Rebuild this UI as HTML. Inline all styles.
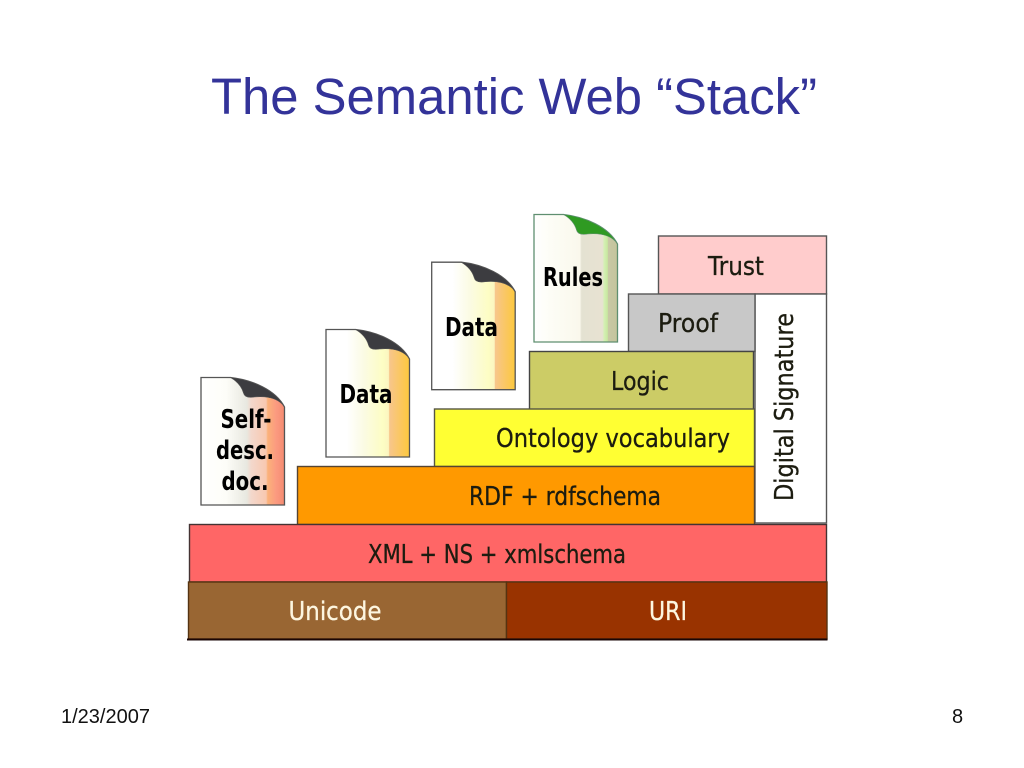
<!DOCTYPE html>
<html><head><meta charset="utf-8">
<style>html,body{margin:0;padding:0;background:#fff;width:1024px;height:768px;overflow:hidden}svg{display:block}</style>
</head><body>
<svg xmlns="http://www.w3.org/2000/svg" width="1024" height="768" viewBox="0 0 1024 768">
<defs>
<linearGradient id="g1" x1="0" x2="1" y1="0" y2="0">
<stop offset="0" stop-color="#fff"/><stop offset=".3" stop-color="#fdfdf8"/><stop offset=".55" stop-color="#e8e8e0"/><stop offset=".6" stop-color="#f3d8cc"/><stop offset=".78" stop-color="#f8c8b0"/><stop offset=".8" stop-color="#fbb27a"/><stop offset=".9" stop-color="#fb9a80"/><stop offset="1" stop-color="#f58a70"/>
</linearGradient>
<linearGradient id="g2" x1="0" x2="1" y1="0" y2="0">
<stop offset="0" stop-color="#fff"/><stop offset=".25" stop-color="#fff"/><stop offset=".45" stop-color="#fbfbe4"/><stop offset=".68" stop-color="#fdfdc4"/><stop offset=".75" stop-color="#fbf5c0"/><stop offset=".76" stop-color="#f7c68c"/><stop offset="1" stop-color="#fdc83c"/>
</linearGradient>
<linearGradient id="g3" x1="0" x2="1" y1="0" y2="0">
<stop offset="0" stop-color="#fff"/><stop offset=".2" stop-color="#fdfdf6"/><stop offset=".55" stop-color="#faf8ec"/><stop offset=".57" stop-color="#e4e2d2"/><stop offset=".82" stop-color="#e8e2d2"/><stop offset=".84" stop-color="#d4f0b4"/><stop offset=".88" stop-color="#c8e8a0"/><stop offset=".89" stop-color="#c8c8a4"/><stop offset="1" stop-color="#c4c49c"/>
</linearGradient>
<path id="doc" d="M0.5 0.5H30C52 3 75 13 84 30V128H0.5Z"/>
<path id="curl" d="M30 0.5C52 3 75 13 84 30C78 21 66 19 54 20C48 21 44 20 43 16C41 9 36 4 30 0.5Z"/>
</defs>

<text x="211" y="114" font-family="'Liberation Sans',sans-serif" font-size="51" fill="#333399" textLength="606" lengthAdjust="spacingAndGlyphs">The Semantic Web “Stack”</text>

<g stroke-width="1.4">
<rect x="658.5" y="236" width="168" height="58" fill="#ffcccc" stroke="#555"/>
<rect x="755" y="294" width="71.5" height="229" fill="#fff" stroke="#555"/>
<rect x="628.5" y="294" width="126.5" height="57.5" fill="#c8c8c8" stroke="#555"/>
<rect x="529.5" y="351.5" width="224" height="58" fill="#cccc66" stroke="#444"/>
<rect x="434.5" y="409" width="320" height="57.5" fill="#ffff33" stroke="#554"/>
<rect x="297.5" y="466.5" width="457" height="58" fill="#ff9900" stroke="#543"/>
<rect x="189.5" y="524.5" width="637" height="57.5" fill="#ff6666" stroke="#433"/>
<rect x="188.5" y="582" width="318" height="57" fill="#996633" stroke="#553311"/>
<rect x="506.5" y="582" width="320.5" height="57" fill="#993300" stroke="#553311"/>
</g>
<rect x="187" y="638.5" width="640.5" height="2" fill="#1a0505"/>

<g stroke="#555" stroke-width="1.3">
<g transform="translate(200.5,377)"><use href="#doc" fill="url(#g1)"/><use href="#curl" fill="#3c3c40" stroke-width=".6"/></g>
<g transform="translate(325.5,329)"><use href="#doc" fill="url(#g2)"/><use href="#curl" fill="#3c3c40" stroke-width=".6"/></g>
<g transform="translate(431.2,261.7)"><use href="#doc" fill="url(#g2)"/><use href="#curl" fill="#3c3c40" stroke-width=".6"/></g>
<g transform="translate(533.5,214)" stroke="#5f8f70"><use href="#doc" fill="url(#g3)"/><use href="#curl" fill="#2f9a22" stroke-width=".6"/></g>
</g>

<g font-family="'DejaVu Sans',sans-serif" font-size="25.5" fill="#1c1c10" text-anchor="middle" stroke="#1c1c10" stroke-width=".3">
<text x="736" y="275" textLength="56" lengthAdjust="spacingAndGlyphs">Trust</text>
<text x="688" y="332" textLength="60" lengthAdjust="spacingAndGlyphs">Proof</text>
<text x="640" y="390" textLength="58" lengthAdjust="spacingAndGlyphs">Logic</text>
<text x="613" y="447" textLength="234" lengthAdjust="spacingAndGlyphs">Ontology vocabulary</text>
<text x="565" y="505" textLength="192" lengthAdjust="spacingAndGlyphs">RDF + rdfschema</text>
<text x="497" y="563" textLength="258" lengthAdjust="spacingAndGlyphs">XML + NS + xmlschema</text>
<text x="335" y="620" textLength="93" lengthAdjust="spacingAndGlyphs" fill="#fdf6e0" stroke="#fdf6e0">Unicode</text>
<text x="668" y="620" textLength="38" lengthAdjust="spacingAndGlyphs" fill="#fdf6e0" stroke="#fdf6e0">URI</text>
<text transform="translate(793,407) rotate(-90)" textLength="188" lengthAdjust="spacingAndGlyphs">Digital Signature</text>
</g>

<g font-family="'DejaVu Sans',sans-serif" font-weight="bold" font-size="26" fill="#000" text-anchor="middle">
<text x="246" y="428" textLength="51" lengthAdjust="spacingAndGlyphs">Self-</text>
<text x="245" y="459" textLength="58" lengthAdjust="spacingAndGlyphs">desc.</text>
<text x="245" y="490" textLength="47" lengthAdjust="spacingAndGlyphs">doc.</text>
<text x="366" y="403" textLength="53" lengthAdjust="spacingAndGlyphs">Data</text>
<text x="471.5" y="336" textLength="53" lengthAdjust="spacingAndGlyphs">Data</text>
<text x="573" y="286" textLength="60" lengthAdjust="spacingAndGlyphs">Rules</text>
</g>

<g font-family="'Liberation Sans',sans-serif" font-size="20" fill="#111">
<text x="61" y="723">1/23/2007</text>
<text x="952" y="723">8</text>
</g>
</svg>
</body></html>
